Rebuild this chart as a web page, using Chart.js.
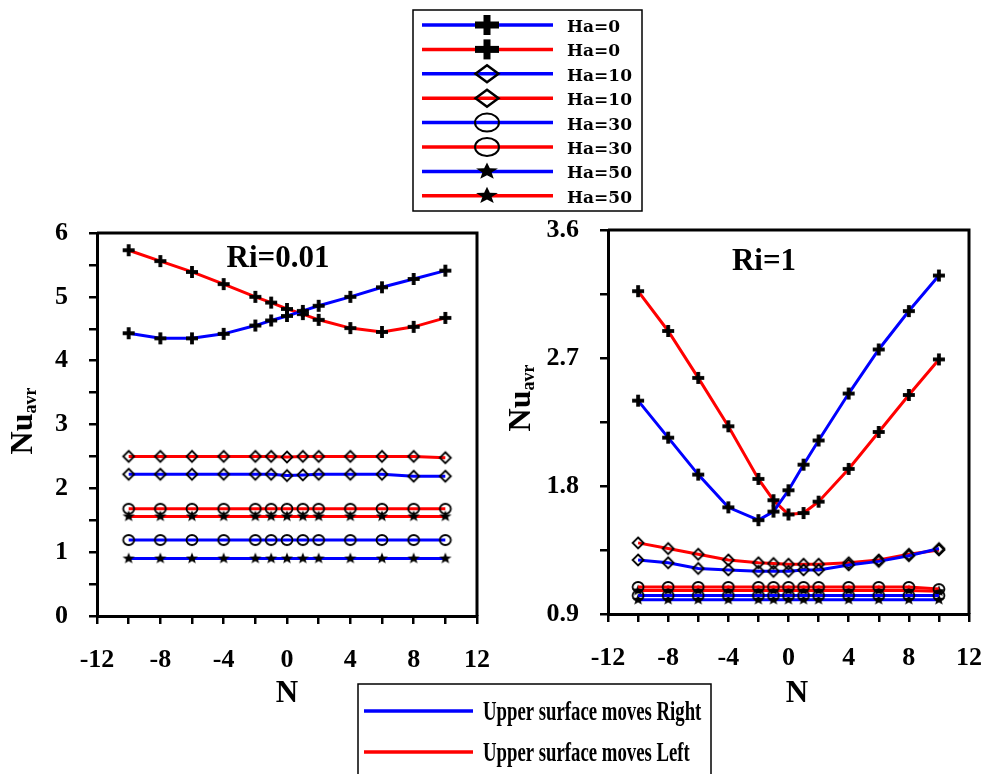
<!DOCTYPE html>
<html>
<head>
<meta charset="utf-8">
<script src="https://cdn.jsdelivr.net/npm/chart.js@4.4.0/dist/chart.umd.min.js"></script>
<style>
  body { margin: 0; background: #fff; }
  #wrap { position: relative; width: 1003px; height: 774px; overflow: hidden; }
  #leftChart { position: absolute; left: 0; top: 0; }
  #rightChart { position: absolute; left: 500px; top: 0; }
</style>
</head>
<body>
<div id="wrap">
  <canvas id="leftChart" width="1003" height="774"></canvas>
  <canvas id="rightChart" width="503" height="774"></canvas>
</div>
<script>
// magnetic field N values on the x axis
const N = [-10, -8, -6, -4, -2, -1, 0, 1, 2, 4, 6, 8, 10];
const xTickValues = [-12, -10, -8, -6, -4, -2, 0, 2, 4, 6, 8, 10, 12];
const yTicksLeft = [0, 0.5, 1, 1.5, 2, 2.5, 3, 3.5, 4, 4.5, 5, 5.5, 6];
const yTicksRight = [0.9, 1.35, 1.8, 2.25, 2.7, 3.15, 3.6];
const seriesLabels = ['Ha=0', 'Ha=0', 'Ha=10', 'Ha=10', 'Ha=30', 'Ha=30', 'Ha=50', 'Ha=50'];
const directionLabels = ['Upper surface moves Right', 'Upper surface moves Left'];

// Ri = 0.01
const ri001Ha0Right  = [4.43, 4.35, 4.35, 4.42, 4.55, 4.63, 4.70, 4.78, 4.86, 5.00, 5.15, 5.28, 5.41];
const ri001Ha0Left   = [5.73, 5.56, 5.39, 5.20, 5.00, 4.91, 4.81, 4.73, 4.64, 4.51, 4.45, 4.53, 4.67];
const ri001Ha10Right = [2.22, 2.22, 2.22, 2.22, 2.22, 2.22, 2.20, 2.21, 2.22, 2.22, 2.22, 2.19, 2.19];
const ri001Ha10Left  = [2.50, 2.50, 2.50, 2.50, 2.50, 2.50, 2.49, 2.50, 2.50, 2.50, 2.50, 2.50, 2.48];
const ri001Ha30Right = [1.19, 1.19, 1.19, 1.19, 1.19, 1.19, 1.19, 1.19, 1.19, 1.19, 1.19, 1.19, 1.19];
const ri001Ha30Left  = [1.68, 1.68, 1.68, 1.68, 1.68, 1.68, 1.68, 1.68, 1.68, 1.68, 1.68, 1.68, 1.68];
const ri001Ha50Right = [0.90, 0.90, 0.90, 0.90, 0.90, 0.90, 0.90, 0.90, 0.90, 0.90, 0.90, 0.90, 0.90];
const ri001Ha50Left  = [1.56, 1.56, 1.56, 1.56, 1.56, 1.56, 1.56, 1.56, 1.56, 1.56, 1.56, 1.56, 1.56];

// Ri = 1
const ri1Ha0Right  = [2.40, 2.14, 1.88, 1.65, 1.56, 1.62, 1.77, 1.95, 2.12, 2.45, 2.76, 3.03, 3.28];
const ri1Ha0Left   = [3.17, 2.89, 2.56, 2.22, 1.85, 1.70, 1.60, 1.61, 1.69, 1.92, 2.18, 2.44, 2.69];
const ri1Ha10Right = [1.28, 1.26, 1.22, 1.21, 1.20, 1.20, 1.20, 1.21, 1.21, 1.245, 1.27, 1.31, 1.36];
const ri1Ha10Left  = [1.40, 1.36, 1.32, 1.28, 1.26, 1.255, 1.25, 1.25, 1.25, 1.26, 1.28, 1.32, 1.35];
const ri1Ha30Right = [1.03, 1.03, 1.03, 1.03, 1.03, 1.03, 1.03, 1.03, 1.03, 1.03, 1.03, 1.03, 1.03];
const ri1Ha30Left  = [1.09, 1.09, 1.09, 1.09, 1.09, 1.09, 1.09, 1.09, 1.09, 1.09, 1.09, 1.09, 1.075];
const ri1Ha50Right = [1.00, 1.00, 1.00, 1.00, 1.00, 1.00, 1.00, 1.00, 1.00, 1.00, 1.00, 1.00, 1.00];
const ri1Ha50Left  = [1.065, 1.065, 1.065, 1.065, 1.065, 1.065, 1.065, 1.065, 1.065, 1.065, 1.065, 1.065, 1.06];

const BLUE = '#0000ff';
const RED = '#ff0000';
const SERIF = "'Liberation Serif', 'Times New Roman', serif";
const markerKinds = ['cross', 'cross', 'diamond', 'diamond', 'circle', 'circle', 'star', 'star'];

// draws one black marker centred on x,y
function drawMarker(g, kind, x, y, w, h, lw) {
  g.save();
  g.fillStyle = '#000';
  g.strokeStyle = '#000';
  g.lineWidth = lw;
  if (kind === 'cross') {
    g.fillRect(x - w / 2, y - lw / 2, w, lw);
    g.fillRect(x - lw / 2, y - h / 2, lw, h);
  } else if (kind === 'diamond') {
    g.beginPath();
    g.moveTo(x, y - h / 2);
    g.lineTo(x + w / 2, y);
    g.lineTo(x, y + h / 2);
    g.lineTo(x - w / 2, y);
    g.closePath();
    g.stroke();
  } else if (kind === 'circle') {
    g.beginPath();
    g.ellipse(x, y, w / 2, h / 2, 0, 0, Math.PI * 2);
    g.stroke();
  } else if (kind === 'star') {
    g.beginPath();
    for (let i = 0; i < 10; i++) {
      const r = i % 2 ? 0.42 : 1;
      const a = -Math.PI / 2 + i * Math.PI / 5;
      g.lineTo(x + Math.cos(a) * r * w / 2, y + Math.sin(a) * r * h / 2);
    }
    g.closePath();
    g.fill();
  }
  g.restore();
}

function markerCanvas(kind) {
  const sizes = {
    cross: [12, 12, 3.8],
    diamond: [11, 11, 1.8],
    circle: [11, 10, 1.8],
    star: [13, 12, 0]
  };
  const [w, h, lw] = sizes[kind];
  const c = document.createElement('canvas');
  c.width = 18;
  c.height = 18;
  drawMarker(c.getContext('2d'), kind, 9, 9, w, h, lw);
  return c;
}

function makeDatasets(seriesList) {
  return seriesList.map((vals, i) => ({
    label: seriesLabels[i],
    data: N.map((n, j) => ({ x: n, y: vals[j] })),
    borderColor: i % 2 === 0 ? BLUE : RED,
    backgroundColor: i % 2 === 0 ? BLUE : RED,
    borderWidth: 3,
    tension: 0,
    pointRadius: 5,
    pointStyle: markerCanvas(markerKinds[i]),
    marker: markerKinds[i]
  }));
}

// plot frame, panel title, axis titles
const panelDecor = {
  id: 'panelDecor',
  afterDraw(chart, args, opts) {
    const ctx = chart.ctx;
    const a = chart.chartArea;
    ctx.save();
    ctx.strokeStyle = '#000';
    ctx.lineWidth = 3;
    ctx.beginPath();
    ctx.moveTo(a.left, a.top);
    ctx.lineTo(a.right, a.top);
    ctx.lineTo(a.right, a.bottom);
    ctx.stroke();

    ctx.fillStyle = '#000';
    ctx.textAlign = 'center';
    ctx.textBaseline = 'alphabetic';
    ctx.font = 'bold 31px ' + SERIF;
    ctx.fillText(opts.title, opts.titleX, opts.titleY);

    ctx.font = 'bold 31px ' + SERIF;
    ctx.fillText('N', opts.nX, opts.nY);

    // rotated Nu with subscript avr
    ctx.translate(opts.nuX, opts.nuY);
    ctx.rotate(-Math.PI / 2);
    ctx.textAlign = 'left';
    ctx.font = 'bold 32px ' + SERIF;
    const w1 = ctx.measureText('Nu').width;
    ctx.font = 'bold 18px ' + SERIF;
    const w2 = ctx.measureText('avr').width;
    const start = -(w1 + w2) / 2;
    ctx.font = 'bold 32px ' + SERIF;
    ctx.fillText('Nu', start, 0);
    ctx.font = 'bold 18px ' + SERIF;
    ctx.fillText('avr', start + w1, 4);
    ctx.restore();
  }
};

// the two shared legend boxes
const sharedLegend = {
  id: 'sharedLegend',
  afterDraw(chart) {
    const ctx = chart.ctx;
    ctx.save();
    ctx.fillStyle = '#fff';
    ctx.strokeStyle = '#000';
    ctx.lineWidth = 1.5;
    ctx.fillRect(413, 10, 229, 201);
    ctx.strokeRect(413, 10, 229, 201);
    const legendSizes = {
      cross: [24, 20, 7],
      diamond: [23, 17, 2.5],
      circle: [24, 18, 2],
      star: [23, 18, 0]
    };
    chart.data.datasets.forEach((ds, i) => {
      const y = 25 + i * 24.4;
      ctx.strokeStyle = ds.borderColor;
      ctx.lineWidth = 3.5;
      ctx.beginPath();
      ctx.moveTo(422, y);
      ctx.lineTo(553, y);
      ctx.stroke();
      const [w, h, lw] = legendSizes[ds.marker];
      drawMarker(ctx, ds.marker, 487, y, w, h, lw);
      ctx.fillStyle = '#000';
      ctx.font = "bold 17px 'DejaVu Serif', serif";
      ctx.textAlign = 'left';
      ctx.textBaseline = 'alphabetic';
      ctx.fillText(ds.label, 567, y + 7);
    });

    // direction legend at the bottom
    ctx.fillStyle = '#fff';
    ctx.fillRect(358, 684, 353, 100);
    ctx.strokeStyle = '#000';
    ctx.lineWidth = 1.5;
    ctx.strokeRect(358, 684, 353, 100);
    [BLUE, RED].forEach((col, i) => {
      const y = 711 + i * 41;
      ctx.strokeStyle = col;
      ctx.lineWidth = 3.5;
      ctx.beginPath();
      ctx.moveTo(364, y);
      ctx.lineTo(473, y);
      ctx.stroke();
      ctx.save();
      ctx.translate(483, y + 8.5);
      ctx.scale(0.67, 1);
      ctx.fillStyle = '#000';
      ctx.font = 'bold 28px ' + SERIF;
      ctx.textAlign = 'left';
      ctx.fillText(directionLabels[i], 0, 0);
      ctx.restore();
    });
    ctx.restore();
  }
};

function makeOptions(yTicks, yMin, yMax, yLabelFn, yWidth, padding, decor) {
  const tickFont = { family: SERIF, weight: 'bold', size: 26 };
  return {
    responsive: false,
    animation: false,
    layout: { padding: padding },
    plugins: {
      legend: { display: false },
      tooltip: { enabled: false },
      panelDecor: decor
    },
    scales: {
      x: {
        type: 'linear',
        min: -12,
        max: 12,
        afterBuildTicks: s => { s.ticks = xTickValues.map(v => ({ value: v })); },
        afterFit: s => { s.height = 60; },
        ticks: {
          autoSkip: false,
          maxRotation: 0,
          padding: 21,
          color: '#000',
          font: tickFont,
          callback: v => (v % 4 === 0 ? String(v) : '')
        },
        grid: { drawOnChartArea: false, tickLength: 8, lineWidth: 2.5, color: '#000' },
        border: { color: '#000', width: 3 }
      },
      y: {
        min: yMin,
        max: yMax,
        afterBuildTicks: s => { s.ticks = yTicks.map(v => ({ value: v })); },
        afterFit: s => { s.width = yWidth; },
        ticks: {
          autoSkip: false,
          padding: 21,
          color: '#000',
          font: tickFont,
          callback: yLabelFn
        },
        grid: { drawOnChartArea: false, tickLength: 8, lineWidth: 2.5, color: '#000' },
        border: { color: '#000', width: 3 }
      }
    }
  };
}

new Chart(document.getElementById('leftChart'), {
  type: 'line',
  data: {
    datasets: makeDatasets([
      ri001Ha0Right, ri001Ha0Left, ri001Ha10Right, ri001Ha10Left,
      ri001Ha30Right, ri001Ha30Left, ri001Ha50Right, ri001Ha50Left
    ])
  },
  options: makeOptions(
    yTicksLeft, 0, 6,
    v => (Number.isInteger(v) ? String(v) : ''),
    97,
    { left: 0, top: 233, right: 526, bottom: 98 },
    { title: 'Ri=0.01', titleX: 278, titleY: 267, nX: 287, nY: 702, nuX: 32, nuY: 421 }
  ),
  plugins: [panelDecor, sharedLegend]
});

new Chart(document.getElementById('rightChart'), {
  type: 'line',
  data: {
    datasets: makeDatasets([
      ri1Ha0Right, ri1Ha0Left, ri1Ha10Right, ri1Ha10Left,
      ri1Ha30Right, ri1Ha30Left, ri1Ha50Right, ri1Ha50Left
    ])
  },
  options: makeOptions(
    yTicksRight, 0.9, 3.6,
    v => (Math.abs(v / 0.9 - Math.round(v / 0.9)) < 1e-6 ? v.toFixed(1) : ''),
    108,
    { left: 0, top: 230, right: 15, bottom: 100 },
    { title: 'Ri=1', titleX: 264, titleY: 270, nX: 297, nY: 702, nuX: 30, nuY: 398 }
  ),
  plugins: [panelDecor]
});
</script>
</body>
</html>
